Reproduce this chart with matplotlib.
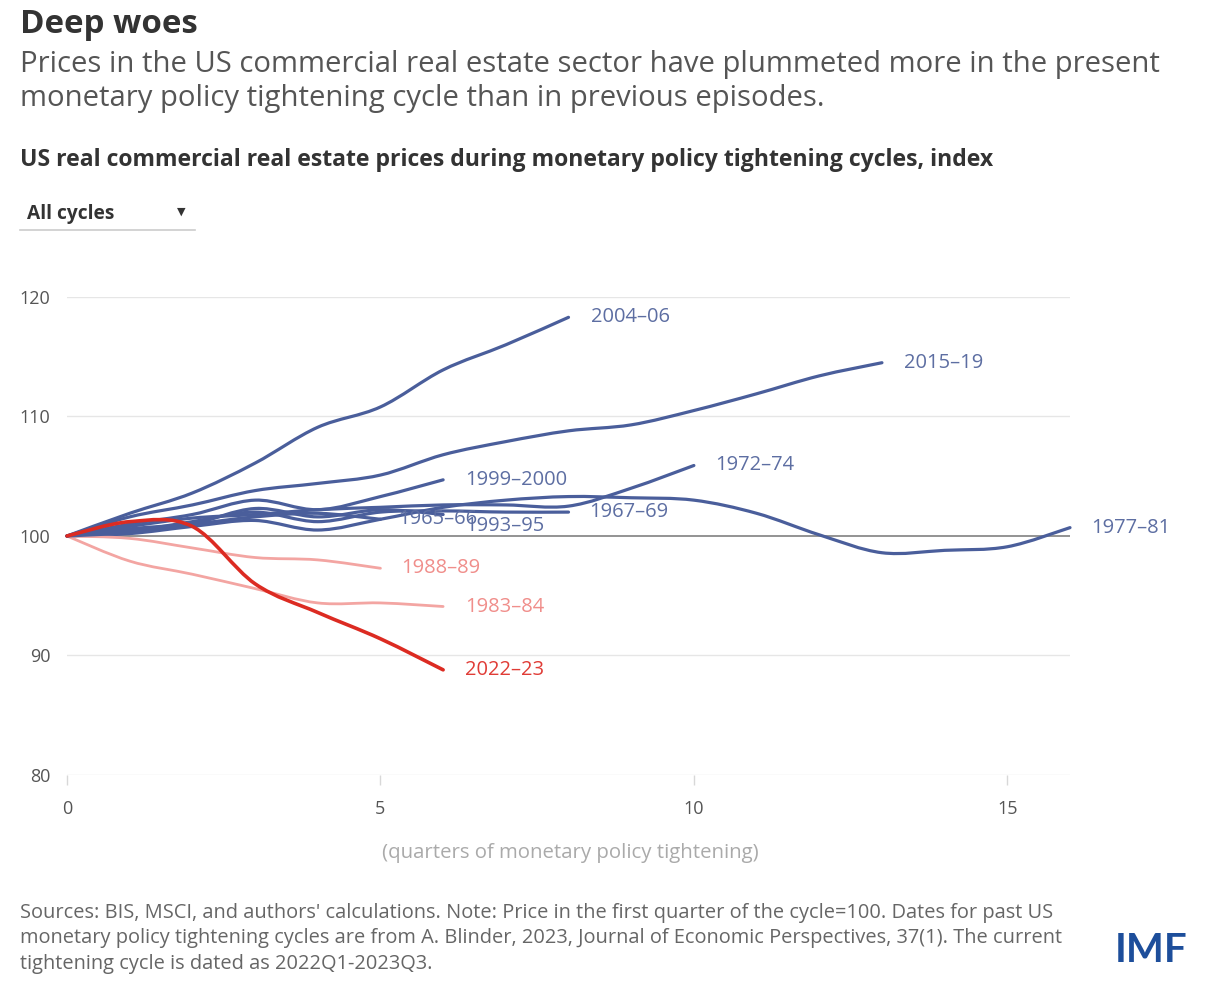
import matplotlib
matplotlib.use("Agg")
import matplotlib.pyplot as plt
from matplotlib.path import Path
from matplotlib.patches import PathPatch

plt.rcParams['font.family'] = ['Open Sans', 'DejaVu Sans']

# ---------------- data ----------------
cycles = ["1965–66", "1967–69", "1972–74", "1977–81", "1983–84", "1988–89",
          "1993–95", "1999–2000", "2004–06", "2015–19", "2022–23"]

s1965 = [100, 100.6, 101.0, 101.6, 101.9, 101.4]
s1967 = [100, 100.4, 101.2, 102.0, 101.2, 102.0, 102.1, 102.0, 102.0]
s1972 = [100, 100.8, 101.5, 101.8, 102.2, 102.4, 102.6, 102.6, 102.5, 104.0, 105.9]
s1977 = [100, 100.2, 100.8, 101.3, 100.5, 101.4, 102.4, 103.0, 103.3, 103.2, 103.0,
         101.9, 100.1, 98.6, 98.8, 99.1, 100.7]
s1983 = [100, 97.9, 96.8, 95.6, 94.4, 94.4, 94.1]
s1988 = [100, 99.8, 99.0, 98.2, 98.0, 97.3]
s1993 = [100, 100.3, 101.0, 102.3, 101.6, 102.2, 101.8]
s1999 = [100, 101.0, 101.8, 103.0, 102.2, 103.3, 104.7]
s2004 = [100, 101.9, 103.6, 106.1, 109.1, 110.8, 113.9, 116.0, 118.3]
s2015 = [100, 101.6, 102.6, 103.8, 104.4, 105.1, 106.8, 107.9, 108.8, 109.3, 110.5,
         111.9, 113.4, 114.5]
s2022 = [100, 101.2, 100.8, 96.0, 93.6, 91.4, 88.8]

series = [s1965, s1967, s1972, s1977, s1983, s1988, s1993, s1999, s2004, s2015, s2022]

x_ticks = [0, 5, 10, 15]
y_ticks = [80, 90, 100, 110, 120]

# ---------------- style ----------------
BLUE = "#4a5e9b"
BLUE_TXT = "#5d6ea2"
PINK = "#f3a5a2"
PINK_TXT = "#f08e8b"
RED = "#dc2b22"
RED_TXT = "#e03c36"

style = {
    "1965–66": (BLUE, BLUE_TXT, 2.3, 2),
    "1967–69": (BLUE, BLUE_TXT, 2.3, 2),
    "1972–74": (BLUE, BLUE_TXT, 2.3, 2),
    "1977–81": (BLUE, BLUE_TXT, 2.3, 2),
    "1983–84": (PINK, PINK_TXT, 2.0, 2),
    "1988–89": (PINK, PINK_TXT, 2.0, 2),
    "1993–95": (BLUE, BLUE_TXT, 2.3, 2),
    "1999–2000": (BLUE, BLUE_TXT, 2.3, 2),
    "2004–06": (BLUE, BLUE_TXT, 2.3, 2),
    "2015–19": (BLUE, BLUE_TXT, 2.3, 2),
    "2022–23": (RED, RED_TXT, 2.6, 4),
}
# label offsets in points (dx, dy)
label_off = {
    "1965–66": (13, 0),
    "1967–69": (15, 0),
    "1972–74": (15, 0),
    "1977–81": (15, 0),
    "1983–84": (16, 0),
    "1988–89": (15, 0),
    "1993–95": (16, -8),
    "1999–2000": (16, 0),
    "2004–06": (16, 0),
    "2015–19": (16, 0),
    "2022–23": (16, 0),
}

W, H = 1207, 994
fig = plt.figure(figsize=(W / 100, H / 100), dpi=100)
fig.patch.set_facecolor("white")

ax_l, ax_r, ax_t, ax_b = 67, 1070, 297, 775
ax = fig.add_axes([ax_l / W, 1 - ax_b / H, (ax_r - ax_l) / W, (ax_b - ax_t) / H])
ax.set_xlim(0, 16)
ax.set_ylim(80, 120)

for sp in ax.spines.values():
    sp.set_visible(False)

for yv in y_ticks:
    if yv == 100:
        ax.axhline(yv, color="#8a8a8a", lw=1.3, zorder=1)
    else:
        ax.axhline(yv, color="#e6e6e6", lw=1.0, zorder=0)

ax.set_xticks(x_ticks)
ax.set_yticks(y_ticks)
ax.tick_params(axis="x", length=7, width=1, color="#d8d8d8", pad=11,
               labelsize=13, labelcolor="#555555")
ax.tick_params(axis="y", length=0, pad=12, labelsize=13, labelcolor="#555555")


def smooth_path(xs, ys, t=1 / 6):
    """Cardinal (Catmull-Rom) Bezier path through the data points."""
    verts = [(xs[0], ys[0])]
    codes = [Path.MOVETO]
    n = len(xs)
    for i in range(n - 1):
        x0, y0 = (xs[i - 1], ys[i - 1]) if i > 0 else (xs[i], ys[i])
        x1, y1 = xs[i], ys[i]
        x2, y2 = xs[i + 1], ys[i + 1]
        x3, y3 = (xs[i + 2], ys[i + 2]) if i + 2 < n else (x2, y2)
        c1 = (x1 + (x2 - x0) * t, y1 + (y2 - y0) * t)
        c2 = (x2 - (x3 - x1) * t, y2 - (y3 - y1) * t)
        verts += [c1, c2, (x2, y2)]
        codes += [Path.CURVE4] * 3
    return Path(verts, codes)


for name, s in zip(cycles, series):
    col, tcol, lw, z = style[name]
    xs = list(range(len(s)))
    patch = PathPatch(smooth_path(xs, s), facecolor="none", edgecolor=col, lw=lw,
                      capstyle="round", joinstyle="round", zorder=z, clip_on=False)
    ax.add_patch(patch)
    dx, dy = label_off[name]
    ax.annotate(name, xy=(xs[-1], s[-1]), xytext=(dx, dy),
                textcoords="offset points", ha="left", va="center",
                fontsize=14.5, color=tcol, zorder=5, annotation_clip=False)


def ftext(x, y, s, **kw):
    fig.text(x / W, 1 - y / H, s, **kw)


ftext(570, 853, "(quarters of monetary policy tightening)", ha="center", va="center",
      fontsize=14.7, color="#aaaaaa")

# titles
ftext(20, 33, "Deep woes", fontsize=23.8, fontweight="bold", color="#333333",
      va="baseline")
ftext(20, 72, "Prices in the US commercial real estate sector have plummeted more in the present",
      fontsize=21.1, color="#555555", va="baseline")
ftext(20, 106, "monetary policy tightening cycle than in previous episodes.",
      fontsize=21.1, color="#555555", va="baseline")
ftext(20, 166, "US real commercial real estate prices during monetary policy tightening cycles, index",
      fontsize=16.6, fontweight="bold", color="#333333", va="baseline")

# dropdown
ftext(27, 219, "All cycles", fontsize=13.8, fontweight="bold", color="#333333",
      va="baseline")
ftext(181, 212, "▼", fontsize=8, color="#333333", ha="center", va="center",
      family=["DejaVu Sans"])
fig.add_artist(plt.Line2D([20 / W, 195 / W], [1 - 230 / H, 1 - 230 / H],
                          color="#cccccc", lw=1.2))

# footnote
foot = ["Sources: BIS, MSCI, and authors' calculations. Note: Price in the first quarter of the cycle=100. Dates for past US",
        "monetary policy tightening cycles are from A. Blinder, 2023, Journal of Economic Perspectives, 37(1). The current",
        "tightening cycle is dated as 2022Q1-2023Q3."]
for i, line in enumerate(foot):
    ftext(20, 918 + i * 25.5, line, fontsize=14.4, color="#666666", va="baseline")

ftext(1151, 950, "IMF", fontsize=29, fontweight="bold", color="#1d4e9b",
      ha="center", va="center", family=["Lato", "DejaVu Sans"])

fig.savefig("out.png", dpi=100, facecolor="white")
